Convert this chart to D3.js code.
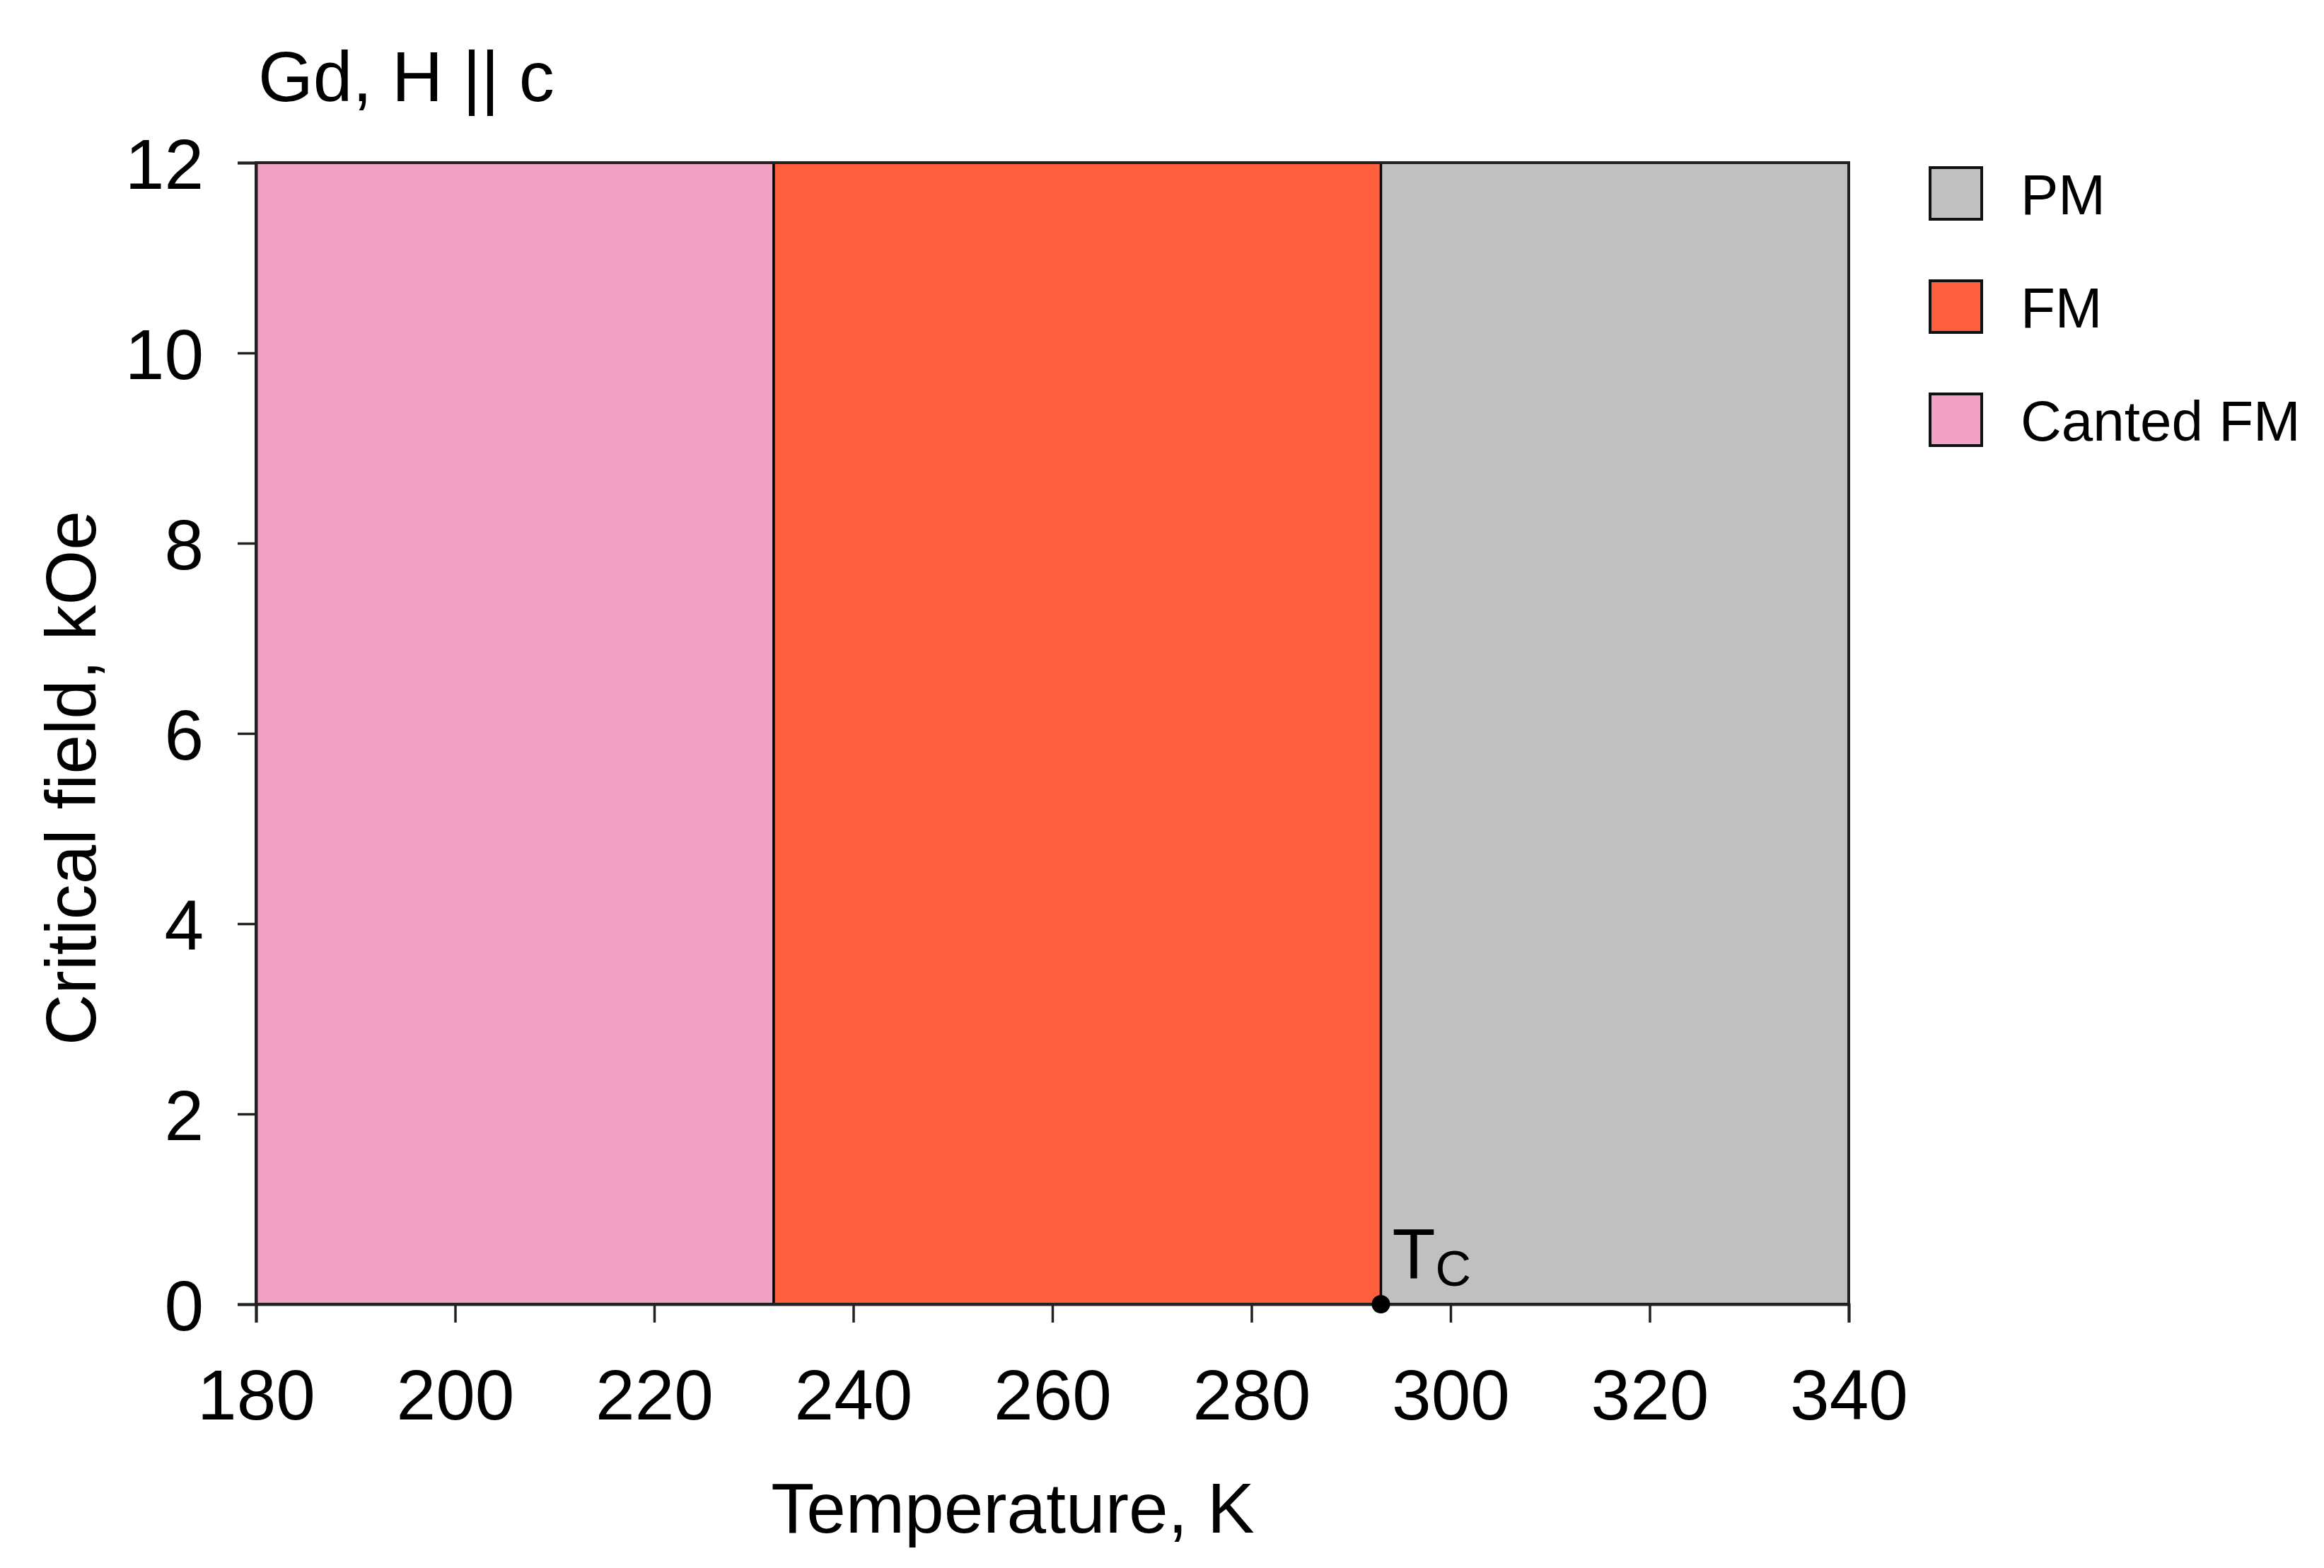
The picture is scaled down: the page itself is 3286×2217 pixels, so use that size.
<!DOCTYPE html>
<html lang="en">
<head>
    <meta charset="utf-8"/>
    <title>Gd, H || c phase diagram</title>
    <script src="https://d3js.org/d3.v7.min.js"></script>
    <style>
        html, body { margin: 0; padding: 0; background: #fff; overflow: hidden; }
        svg { display: block; }
    </style>
</head>
<body>
    <div id="chart"></div>

    <script>
        // phase regions (temperature bounds in K)
        const phaseNames = ["Canted FM", "FM", "PM"];
        const phaseStart = [180, 232, 293];
        const phaseEnd = [232, 293, 340];
        const phaseColors = ["#f1a1c3", "#ff5f3d", "#c0c0c0"];
        const fieldMax = 12;

        const legendNames = ["PM", "FM", "Canted FM"];
        const legendColors = ["#c0c0c0", "#ff5f3d", "#f1a1c3"];

        const xTicks = [180, 200, 220, 240, 260, 280, 300, 320, 340];
        const yTicks = [0, 2, 4, 6, 8, 10, 12];
        const tcPoint = {t: 293, h: 0};

        const font = '"Liberation Sans", Arial, sans-serif';
        const width = 3286, height = 2217;
        const margin = {top: 230, right: 672, bottom: 373, left: 362};
        const innerWidth = width - margin.left - margin.right;
        const innerHeight = height - margin.top - margin.bottom;

        const svg = d3.select('#chart')
            .append('svg')
            .attr('width', width)
            .attr('height', height)
            .attr('font-family', font);

        svg.append('rect').attr('width', width).attr('height', height).attr('fill', '#fff');

        const g = svg.append('g')
            .attr('transform', `translate(${margin.left},${margin.top})`);

        const x = d3.scaleLinear().domain([180, 340]).range([0, innerWidth]);
        const y = d3.scaleLinear().domain([0, fieldMax]).range([innerHeight, 0]);

        // phase areas
        g.selectAll('.phase')
            .data(phaseNames)
            .enter().append('rect')
            .attr('class', 'phase')
            .attr('x', (d, i) => x(phaseStart[i]))
            .attr('y', y(fieldMax))
            .attr('width', (d, i) => x(phaseEnd[i]) - x(phaseStart[i]))
            .attr('height', y(0) - y(fieldMax))
            .attr('fill', (d, i) => phaseColors[i]);

        // boundaries between phases
        g.selectAll('.boundary')
            .data(phaseStart.slice(1))
            .enter().append('line')
            .attr('x1', d => x(d)).attr('x2', d => x(d))
            .attr('y1', y(0)).attr('y2', y(fieldMax))
            .attr('stroke', '#000')
            .attr('stroke-width', 3.5);

        // frame
        g.append('rect')
            .attr('x', 0).attr('y', 0)
            .attr('width', innerWidth).attr('height', innerHeight)
            .attr('fill', 'none')
            .attr('stroke', '#222')
            .attr('stroke-width', 4);

        // axes
        const xAxis = g.append('g')
            .attr('transform', `translate(0,${innerHeight})`)
            .call(d3.axisBottom(x).tickValues(xTicks).tickSize(26).tickPadding(66).tickFormat(d3.format('d')));
        const yAxis = g.append('g')
            .call(d3.axisLeft(y).tickValues(yTicks).tickSize(26).tickPadding(48).tickFormat(d3.format('d')));

        [xAxis, yAxis].forEach(ax => {
            ax.attr('font-size', 100).attr('font-family', font);
            ax.select('.domain').attr('stroke', '#222').attr('stroke-width', 4);
            ax.selectAll('.tick line').attr('stroke', '#222').attr('stroke-width', 3.5);
            ax.selectAll('.tick text').attr('fill', '#000');
        });
        xAxis.selectAll('.tick text').attr('dy', '0.71em');
        yAxis.selectAll('.tick text').attr('dy', '0.36em');

        // Tc marker
        g.append('circle')
            .attr('cx', x(tcPoint.t))
            .attr('cy', y(tcPoint.h))
            .attr('r', 13)
            .attr('fill', '#000');

        const tc = g.append('text')
            .attr('x', x(tcPoint.t) + 16)
            .attr('y', y(tcPoint.h) - 37)
            .attr('font-size', 100);
        tc.append('tspan').text('T');
        tc.append('tspan').attr('dy', 11).attr('font-size', 70).text('C');

        // titles
        svg.append('text')
            .attr('x', 365)
            .attr('y', 143)
            .attr('font-size', 100)
            .text('Gd, H || c');

        svg.append('text')
            .attr('x', 1432)
            .attr('y', 2167)
            .attr('text-anchor', 'middle')
            .attr('font-size', 100)
            .text('Temperature, K');

        svg.append('text')
            .attr('transform', 'translate(135,1100) rotate(-90)')
            .attr('text-anchor', 'middle')
            .attr('font-size', 100)
            .text('Critical field, kOe');

        // legend
        const legend = svg.append('g')
            .attr('transform', 'translate(2729,237)');
        const item = legend.selectAll('.item')
            .data(legendNames)
            .enter().append('g')
            .attr('transform', (d, i) => `translate(0,${i * 160})`);
        item.append('rect')
            .attr('width', 73).attr('height', 73)
            .attr('fill', (d, i) => legendColors[i])
            .attr('stroke', '#111')
            .attr('stroke-width', 4);
        item.append('text')
            .attr('x', 128)
            .attr('y', 66)
            .attr('font-size', 80)
            .text(d => d);
    </script>
</body>
</html>
